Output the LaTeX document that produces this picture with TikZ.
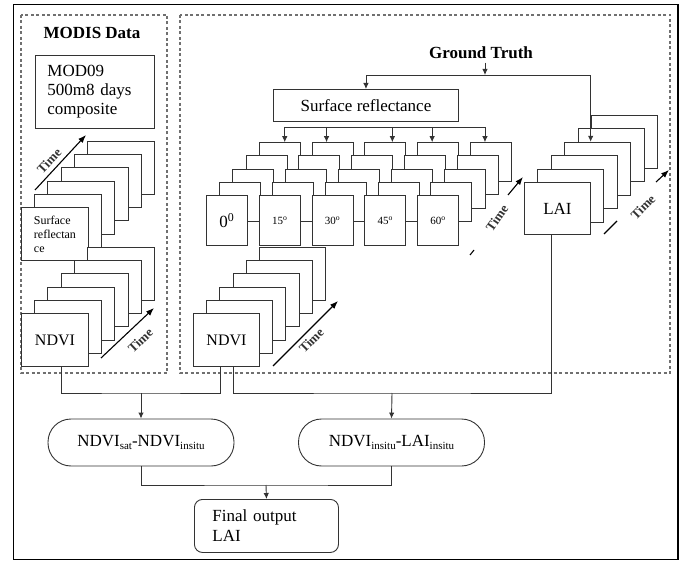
\documentclass[tikz,border=0pt]{standalone}
\usepackage{fontspec}
\setmainfont{Liberation Serif}
\usetikzlibrary{arrows.meta}

\definecolor{linecol}{HTML}{333333}
\definecolor{dashcol}{HTML}{707070}
\newcommand{\fs}[1]{\fontsize{#1}{#1}\selectfont}
\newcommand{\subtxt}[1]{\raisebox{-2.5pt}{\fontsize{11}{11}\selectfont #1}}

\tikzset{
  wire/.style={draw=linecol, line width=0.9pt},
  arr/.style={wire, -{Latex[length=6pt,width=5.5pt]}},
  tarr/.style={draw=black, line width=1.1pt, -{Latex[length=8pt,width=6pt]}},
  sheet/.style={draw=linecol, line width=0.9pt, fill=white, anchor=north west, inner sep=0pt},
  bigsheet/.style={sheet, minimum width=67pt, minimum height=53pt},
  laisheet/.style={sheet, minimum width=66pt, minimum height=53pt},
  angsheet/.style={sheet, minimum width=41pt, minimum height=39pt},
  angfront/.style={sheet, minimum width=41pt, minimum height=50pt},
  pill/.style={draw=linecol, line width=0.9pt, rounded corners=23pt,
    minimum width=186pt, minimum height=47pt, font=\fs{17}},
  dashbox/.style={draw=dashcol, line width=1.1pt, dash pattern=on 3pt off 2.5pt},
  timelbl/.style={font=\bfseries\fs{13}, text=linecol, inner sep=1pt},
  title/.style={font=\bfseries\fs{17}},
}

\begin{document}
\begin{tikzpicture}[x=1pt,y=-1pt]
  \useasboundingbox (0,0) rectangle (685,561);
  % frames
  \draw[line width=1pt] (13,5) rectangle (678,559);
  \draw[line width=2.5pt] (678,5) -- (678,559);
  \draw[dashbox] (21,15) rectangle (167,373);
  \draw[dashbox] (180,15) rectangle (670,373);

  % MODIS side
  \node[title] (modis) at (92,33) {MODIS Data};
  \node[sheet, minimum width=119pt, minimum height=73pt, text width=95pt,
    inner xsep=12pt, align=left, font=\fontsize{17}{19}\selectfont]
    (mod) at (35,55) {MOD09\\500m8 days\\composite};

  \foreach \i in {5,...,1}
    \node[bigsheet] (lsr\i) at (21+13.2*\i,207-13.2*\i) {};
  \node[bigsheet, align=left, font=\fontsize{12}{14}\selectfont] (lsr0) at (21,207)
    {Surface\\reflectan\\ce};

  \foreach \i in {5,...,1}
    \node[bigsheet] (lnd\i) at (21+13.2*\i,313-13.2*\i) {};
  \node[bigsheet, font=\fs{16}] (ndviL) at (21,313) {NDVI};

  \draw[tarr] (35,190) -- node[timelbl, sloped, above=3pt, pos=0.41] {Time} (86,135);
  \draw[tarr] (101,358) -- node[timelbl, sloped, below=8pt, pos=0.56] {Time} (154,308);

  % ground truth side
  \node[title] (gt) at (481,53) {Ground Truth};
  \node[sheet, minimum width=185pt, minimum height=32pt, font=\fs{17}] (srbox) at (273,89)
    {Surface reflectance};

  \foreach \k/\lab in {0/{\fs{17}0\textsuperscript{0}},1/{\fs{11}15\textsuperscript{o}},
      2/{\fs{11}30\textsuperscript{o}},3/{\fs{11}45\textsuperscript{o}},4/{\fs{11}60\textsuperscript{o}}} {
    \foreach \j in {4,...,1}
      \node[angsheet] (a\k-\j) at (206+52.8*\k+13.2*\j,195-13.2*\j) {};
    \node[angfront] (f\k) at (206+52.8*\k,195) {\lab};
  }

  \foreach \i in {5,...,1}
    \node[laisheet] (lai\i) at (524+13.4*\i,182-13.4*\i) {};
  \node[laisheet, minimum height=52pt, font=\fs{17}] (lai0) at (524,182) {LAI};

  \foreach \i in {5,...,1}
    \node[laisheet] (ndr\i) at (193+13.2*\i,313-13.2*\i) {};
  \node[laisheet, font=\fs{16}] (ndviR) at (193,313) {NDVI};

  \draw[line width=1.1pt] (470,255) -- (474,250);
  \draw[tarr] (508,195) -- (523,177);
  \node[timelbl, rotate=55] (tang) at (497,218) {Time};
  \draw[line width=1.1pt] (604,234) -- (617,221);
  \draw[tarr] (656,182) -- (669,170);
  \node[timelbl, rotate=45] (tlai) at (643,207) {Time};
  \draw[tarr] (273,366) -- node[timelbl, sloped, below=3pt, pos=0.49] {Time} (338,301);

  % ground truth tree
  \coordinate (gtsplit) at (485,75);
  \draw[arr] (gt.south -| gtsplit) -- (gtsplit);
  \draw[arr] (gtsplit) -| (srbox.north);
  \draw[arr] (gtsplit) -| ([xshift=-7pt]lai3.north);
  \coordinate (srbus) at (385,127);
  \draw[wire] ([xshift=5pt]a0-4.north |- srbus) -- ([xshift=-6pt]a4-4.north |- srbus);
  \foreach \k/\dx in {0/5,1/-6,2/7,3/-6,4/-6}
    \draw[arr] ([xshift=\dx pt]a\k-4.north |- srbus) -- ([xshift=\dx pt]a\k-4.north);

  % comparisons
  \node[pill] (e1) at (141,442.5) {NDVI\subtxt{sat}-NDVI\subtxt{insitu}};
  \node[pill] (e2) at (391.5,442.5) {NDVI\subtxt{insitu}-LAI\subtxt{insitu}};
  \node[sheet, rounded corners=8pt, minimum width=144pt, minimum height=53pt,
    text width=108pt, inner xsep=18pt, align=left, font=\fontsize{17}{20}\selectfont]
    (final) at (194,499) {Final output\\LAI};

  \coordinate (jL) at (141,393);
  \coordinate (jR) at (392,393);
  \coordinate (jF) at (266,485);
  \draw[wire] ([xshift=6.5pt]ndviL.south) |- (jL) -| ([xshift=-6pt]ndviR.south);
  \draw[arr] (jL) -- (e1.north);
  \draw[wire] ([xshift=7pt]ndviR.south) |- (jR) -| ([xshift=-6pt]lai0.south);
  \draw[arr] (jR) -- (e2.north);
  \draw[wire] (e1.south) |- (jF) -| (e2.south);
  \draw[arr] (jF) -- (final.north);
\end{tikzpicture}
\end{document}
